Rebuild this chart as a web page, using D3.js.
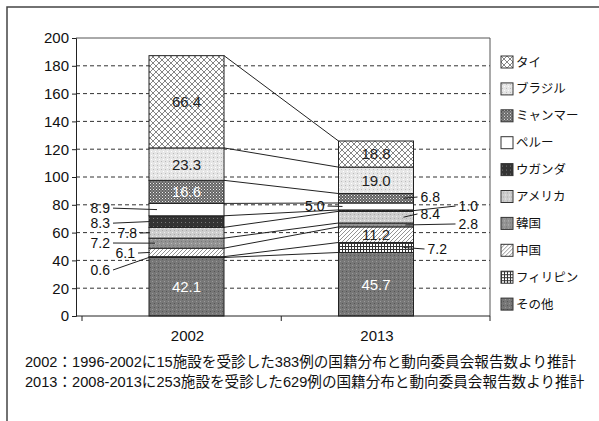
<!DOCTYPE html>
<html>
<head>
<meta charset="utf-8">
<script src="https://cdn.jsdelivr.net/npm/d3@7"></script>
<style>
  body { margin: 0; background: #fff; }
  svg { display: block; font-family: "Liberation Sans", Arial, "Noto Sans CJK JP", sans-serif; }
</style>
</head>
<body>
<div id="chart"></div>
<script>
var width = 599;
var height = 421;

// data, bottom segment first
var years = ['2002', '2013'];
var categories = ['その他', 'フィリピン', '中国', '韓国', 'アメリカ', 'ウガンダ', 'ペルー', 'ミャンマー', 'ブラジル', 'タイ'];
var values2002 = [42.1, 0.6, 6.1, 7.2, 7.8, 8.3, 8.9, 16.6, 23.3, 66.4];
var values2013 = [45.7, 7.2, 11.2, 2.8, 8.4, 1.0, 5.0, 6.8, 19.0, 18.8];
var yTicks = [0, 20, 40, 60, 80, 100, 120, 140, 160, 180, 200];
var notes = [
  '2002：1996-2002に15施設を受診した383例の国籍分布と動向委員会報告数より推計',
  '2013：2008-2013に253施設を受診した629例の国籍分布と動向委員会報告数より推計'
];

// plot frame
var plotLeft = 76, plotRight = 490, plotTop = 38, plotBottom = 316;
var barWidth = 75;

var y = d3.scaleLinear().domain([0, 200]).range([plotBottom, plotTop]);
var x = d3.scalePoint().domain(years).range([186.5, 376]);

// how each segment label is placed: 'in' = inside the bar, otherwise a callout
// at: label height in data units, dx: text offset from bar edge, lx: leader end inside the bar
var labels2002 = {
  'その他': {mode: 'in', color: '#fff'},
  'フィリピン': {side: 'left', at: 33.1, dx: -39, lx: 1},
  '中国': {side: 'left', at: 45.3, dx: -14, lx: 1},
  '韓国': {side: 'left', at: 52.5, dx: -39, lx: 6},
  'アメリカ': {side: 'left', at: 59.7, dx: -12, lx: 1},
  'ウガンダ': {side: 'left', at: 66.8, dx: -39, lx: 1},
  'ペルー': {side: 'left', at: 77.6, dx: -39, lx: 8},
  'ミャンマー': {mode: 'in', color: '#fff'},
  'ブラジル': {mode: 'in', color: '#222'},
  'タイ': {mode: 'in', color: '#222'}
};
var labels2013 = {
  'その他': {mode: 'in', color: '#fff'},
  'フィリピン': {side: 'right', at: 48.2, dx: 14, lx: -10},
  '中国': {mode: 'in', color: '#222'},
  '韓国': {side: 'right', at: 66.2, dx: 45, lx: -8},
  'アメリカ': {side: 'right', at: 73.4, dx: 7, lx: -10},
  'ウガンダ': {side: 'right', at: 79.1, dx: 45, lx: 0},
  'ペルー': {side: 'left', at: 79.1, dx: -14, lx: 4},
  'ミャンマー': {side: 'right', at: 85.6, dx: 7, lx: -10},
  'ブラジル': {mode: 'in', color: '#222'},
  'タイ': {mode: 'in', color: '#222'}
};

var svg = d3.select('#chart')
  .append('svg')
  .attr('width', width)
  .attr('height', height);

// fill patterns (scanned greyscale look)
var defs = svg.append('defs');

function pat(id, size, bg) {
  var p = defs.append('pattern')
    .attr('id', id)
    .attr('patternUnits', 'userSpaceOnUse')
    .attr('width', size)
    .attr('height', size);
  p.append('rect').attr('width', size).attr('height', size).attr('fill', bg);
  return p;
}

var p;
p = pat('p-thai', 6, '#fff');
p.append('path').attr('d', 'M0,0L6,6M6,0L0,6').attr('stroke', '#666').attr('stroke-width', 0.8);
p = pat('p-brazil', 4, '#e6e6e6');
p.append('rect').attr('x', 1).attr('y', 1).attr('width', 1).attr('height', 1).attr('fill', '#bbb');
p.append('rect').attr('x', 3).attr('y', 3).attr('width', 1).attr('height', 1).attr('fill', '#fff');
p = pat('p-myanmar', 3, '#646464');
p.append('rect').attr('x', 0).attr('y', 0).attr('width', 1).attr('height', 1).attr('fill', '#eee');
p.append('rect').attr('x', 1.5).attr('y', 1.5).attr('width', 1).attr('height', 1).attr('fill', '#ccc');
p = pat('p-peru', 4, '#fff');
p = pat('p-uganda', 4, '#333');
p.append('rect').attr('x', 1).attr('y', 2).attr('width', 1).attr('height', 1).attr('fill', '#777');
p = pat('p-america', 4, '#cdcdcd');
p.append('rect').attr('x', 0).attr('y', 0).attr('width', 1).attr('height', 1).attr('fill', '#eee');
p.append('rect').attr('x', 2).attr('y', 2).attr('width', 1).attr('height', 1).attr('fill', '#aaa');
p = pat('p-korea', 4, '#939393');
p.append('rect').attr('x', 1).attr('y', 1).attr('width', 1).attr('height', 1).attr('fill', '#777');
p.append('rect').attr('x', 3).attr('y', 3).attr('width', 1).attr('height', 1).attr('fill', '#bbb');
p = pat('p-china', 4, '#fff');
p.append('path').attr('d', 'M-1,5L5,-1M-1,1L1,-1M3,5L5,3').attr('stroke', '#777').attr('stroke-width', 0.8);
p = pat('p-philippines', 3, '#fff');
p.append('path').attr('d', 'M0,0.5H3M0.5,0V3').attr('stroke', '#333').attr('stroke-width', 1);
p = pat('p-other', 4, '#777');
p.append('rect').attr('x', 0).attr('y', 1).attr('width', 1).attr('height', 1).attr('fill', '#999');
p.append('rect').attr('x', 2).attr('y', 3).attr('width', 1).attr('height', 1).attr('fill', '#555');

var patternIds = {
  'タイ': 'p-thai', 'ブラジル': 'p-brazil', 'ミャンマー': 'p-myanmar', 'ペルー': 'p-peru',
  'ウガンダ': 'p-uganda', 'アメリカ': 'p-america', '韓国': 'p-korea', '中国': 'p-china',
  'フィリピン': 'p-philippines', 'その他': 'p-other'
};

// outer frame (cut off at right and bottom in the scan)
svg.append('path')
  .attr('d', 'M7,' + height + 'V7H' + width)
  .attr('fill', 'none')
  .attr('stroke', '#444')
  .attr('stroke-width', 1.5);

// gridlines
svg.append('g')
  .selectAll('line')
  .data(yTicks.filter(function(t) { return t > 0 && t < 200; }))
  .enter().append('line')
  .attr('x1', plotLeft)
  .attr('x2', plotRight)
  .attr('y1', function(d) { return y(d); })
  .attr('y2', function(d) { return y(d); })
  .attr('stroke', '#333')
  .attr('stroke-dasharray', '4,3');

// plot border top & right
svg.append('path')
  .attr('d', 'M' + plotLeft + ',' + y(200) + 'H' + plotRight + 'V' + plotBottom)
  .attr('fill', 'none')
  .attr('stroke', '#555');

// stack the series
function stack(values) {
  var sum = 0;
  return values.map(function(v, i) {
    var seg = {cat: categories[i], value: v, y0: sum, y1: sum + v};
    sum += v;
    return seg;
  });
}
var stacks = {'2002': stack(values2002), '2013': stack(values2013)};
var labelSets = {'2002': labels2002, '2013': labels2013};

// connector lines between the two bars
svg.append('g')
  .selectAll('line')
  .data(categories.map(function(c, i) { return i; }))
  .enter().append('line')
  .attr('x1', x('2002') + barWidth / 2)
  .attr('x2', x('2013') - barWidth / 2)
  .attr('y1', function(i) { return y(stacks['2002'][i].y1); })
  .attr('y2', function(i) { return y(stacks['2013'][i].y1); })
  .attr('stroke', '#222')
  .attr('stroke-width', 1);

// bars
years.forEach(function(yr) {
  svg.append('g')
    .selectAll('rect')
    .data(stacks[yr])
    .enter().append('rect')
    .attr('x', x(yr) - barWidth / 2)
    .attr('width', barWidth)
    .attr('y', function(d) { return y(d.y1); })
    .attr('height', function(d) { return y(d.y0) - y(d.y1); })
    .attr('fill', function(d) { return 'url(#' + patternIds[d.cat] + ')'; })
    .attr('stroke', '#222')
    .attr('stroke-width', 1);
});

// value labels
years.forEach(function(yr) {
  var g = svg.append('g');
  var left = x(yr) - barWidth / 2, right = x(yr) + barWidth / 2;
  stacks[yr].forEach(function(d) {
    var l = labelSets[yr][d.cat];
    var mid = y((d.y0 + d.y1) / 2);
    if (l.mode === 'in') {
      g.append('text')
        .attr('x', x(yr))
        .attr('y', mid)
        .attr('dy', '0.36em')
        .attr('text-anchor', 'middle')
        .attr('font-size', 15)
        .attr('fill', l.color)
        .text(d.value.toFixed(1));
      return;
    }
    var edge = l.side === 'left' ? left : right;
    var tx = edge + l.dx;
    var ty = y(l.at);
    g.append('text')
      .attr('x', tx)
      .attr('y', ty)
      .attr('dy', '0.36em')
      .attr('text-anchor', l.side === 'left' ? 'end' : 'start')
      .attr('font-size', 14)
      .attr('fill', '#111')
      .text(d.value.toFixed(1));
    var lineStart = l.side === 'left' ? tx + 3 : tx - 3;
    g.append('line')
      .attr('x1', lineStart)
      .attr('y1', ty)
      .attr('x2', edge + l.lx)
      .attr('y2', mid)
      .attr('stroke', '#222')
      .attr('stroke-width', 1);
  });
});

// y axis
var yAxis = svg.append('g')
  .attr('transform', 'translate(' + plotLeft + ',0)')
  .call(d3.axisLeft(y).tickValues(yTicks).tickSize(4).tickPadding(3));
yAxis.select('.domain').attr('stroke', '#222');
yAxis.selectAll('.tick line').attr('stroke', '#222');
yAxis.selectAll('text')
  .attr('font-family', '"Liberation Sans", Arial, sans-serif')
  .attr('font-size', 15)
  .attr('fill', '#111');

// x axis: baseline, category boundary ticks, labels
svg.append('line')
  .attr('x1', plotLeft).attr('x2', plotRight)
  .attr('y1', plotBottom).attr('y2', plotBottom)
  .attr('stroke', '#222');
var boundaries = [plotLeft + 6, (x('2002') + x('2013')) / 2, plotRight];
svg.append('g')
  .selectAll('line')
  .data(boundaries)
  .enter().append('line')
  .attr('x1', function(d) { return d; })
  .attr('x2', function(d) { return d; })
  .attr('y1', plotBottom)
  .attr('y2', plotBottom + 5)
  .attr('stroke', '#222');
svg.append('g')
  .selectAll('text')
  .data(years)
  .enter().append('text')
  .attr('x', function(d) { return x(d) + 1; })
  .attr('y', plotBottom + 25)
  .attr('text-anchor', 'middle')
  .attr('font-size', 15)
  .attr('fill', '#111')
  .text(function(d) { return d; });

// legend, top item = last category
var legend = svg.append('g')
  .attr('transform', 'translate(501,56)')
  .selectAll('g')
  .data(categories.slice().reverse())
  .enter().append('g')
  .attr('transform', function(d, i) { return 'translate(0,' + i * 26.9 + ')'; });

legend.append('rect')
  .attr('width', 12)
  .attr('height', 12)
  .attr('fill', function(d) { return 'url(#' + patternIds[d] + ')'; })
  .attr('stroke', '#333');

legend.append('text')
  .attr('x', 15)
  .attr('y', 6)
  .attr('dy', '0.36em')
  .attr('font-family', '"Noto Sans CJK JP", sans-serif')
  .attr('font-size', 12.5)
  .attr('fill', '#111')
  .text(function(d) { return d; });

// footnotes
svg.append('g')
  .selectAll('text')
  .data(notes)
  .enter().append('text')
  .attr('x', 25)
  .attr('y', function(d, i) { return 367 + i * 20; })
  .attr('font-family', '"Liberation Sans", "Noto Sans CJK JP", sans-serif')
  .attr('font-size', 14.6)
  .attr('fill', '#111')
  .text(function(d) { return d; });
</script>
</body>
</html>
